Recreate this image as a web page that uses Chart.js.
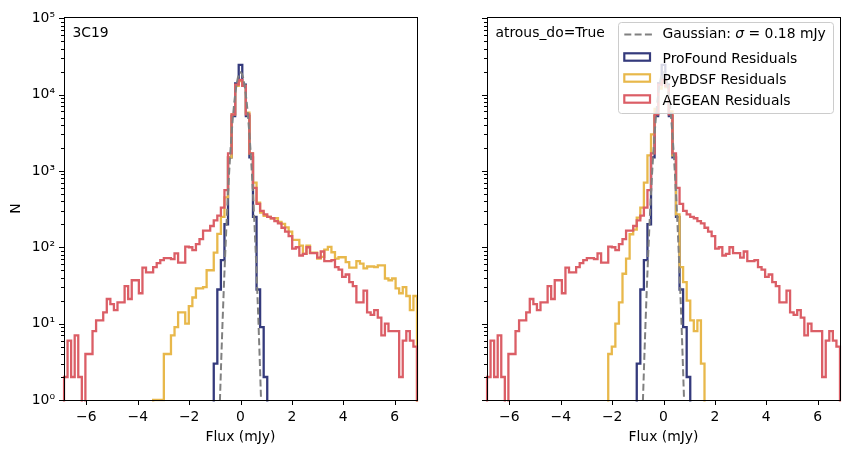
<!DOCTYPE html>
<html>
<head>
<meta charset="utf-8">
<title>Residual flux histograms</title>
<script src="https://cdn.jsdelivr.net/npm/chart.js@4.4.1/dist/chart.umd.min.js"></script>
<style>
  html, body { margin: 0; padding: 0; background: #fff; }
  #fig { position: relative; width: 853px; height: 453px; overflow: hidden; }
  #fig canvas { position: absolute; top: 0; }
</style>
</head>
<body>
<div id="fig">
  <canvas id="panelLeft" width="426" height="453" style="left:0px"></canvas>
  <canvas id="panelRight" width="427" height="453" style="left:426px"></canvas>
</div>
<script>
// histogram bins: 99 equal bins between these edges (mJy)
const binEdgeMin = -6.87;
const binEdgeMax = 6.87;

const fluxTicks = [-6, -4, -2, 0, 2, 4, 6];
const countDecades = [1, 10, 100, 1000, 10000, 100000];
const countMax = 102500;

// counts per bin
const aegeanCounts = [
  2, 6, 2, 7, 2, 0, 4, 4, 8, 11,
  11, 14, 21, 18, 15, 19, 19, 31, 21, 37,
  37, 25, 54, 47, 47, 55, 62, 68, 72, 72,
  70, 83, 63, 63, 102, 100, 92, 110, 128, 165,
  165, 190, 225, 260, 330, 560, 1700, 5500, 13500, 15500,
  13000, 5500, 1700, 600, 370, 300, 270, 250, 240, 220,
  205, 180, 160, 140, 96, 100, 78, 82, 100, 84,
  84, 73, 88, 66, 66, 68, 55, 51, 41, 44,
  35, 31, 19, 19, 27, 14, 13, 15, 12, 7,
  10, 8, 8, 8, 2, 6, 8, 6, 5
];
const profoundCounts = [
  0, 0, 0, 0, 0, 0, 0, 0, 0, 0,
  0, 0, 0, 0, 0, 0, 0, 0, 0, 0,
  0, 0, 0, 0, 0, 0, 0, 0, 0, 0,
  0, 0, 0, 0, 0, 0, 0, 0, 0, 0,
  0, 0, 3, 28, 68, 200, 1500, 5200, 14000, 24500,
  13500, 5200, 1500, 250, 28, 9, 2, 0, 0, 0,
  0, 0, 0, 0, 0, 0, 0, 0, 0, 0,
  0, 0, 0, 0, 0, 0, 0, 0, 0, 0,
  0, 0, 0, 0, 0, 0, 0, 0, 0, 0,
  0, 0, 0, 0, 0, 0, 0, 0, 0
];
const pybdsfCounts = [
  0, 0, 0, 0, 0, 0, 0, 0, 0, 0,
  0, 0, 0, 0, 0, 0, 0, 0, 0, 0,
  0, 0, 0, 0, 0, 1, 1, 1, 4, 4,
  7, 9, 14, 14, 10, 17, 22, 29, 29, 30,
  50, 50, 85, 150, 250, 450, 1500, 5500, 13000, 15000,
  13000, 5800, 1700, 700, 385, 285, 257, 250, 240, 240,
  215, 203, 182, 160, 125, 125, 105, 82, 105, 85,
  85, 71, 75, 93, 101, 86, 71, 74, 74, 64,
  54, 54, 66, 61, 53, 56, 56, 55, 58, 58,
  39, 37, 39, 29, 25, 30, 23, 15, 23
];
const pybdsfAtrousCounts = [
  0, 0, 0, 0, 0, 0, 0, 0, 0, 0,
  0, 0, 0, 0, 0, 0, 0, 0, 0, 0,
  0, 0, 0, 0, 0, 0, 0, 0, 0, 0,
  0, 0, 0, 0, 4, 5, 10, 19, 45, 71,
  148, 170, 244, 330, 700, 1600, 3000, 6500, 12000, 15000,
  12500, 6000, 1600, 270, 55, 35, 20, 11, 8, 11,
  3, 0, 0, 0, 0, 0, 0, 0, 0, 0,
  0, 0, 0, 0, 0, 0, 0, 0, 0, 0,
  0, 0, 0, 0, 0, 0, 0, 0, 0, 0,
  0, 0, 0, 0, 0, 0, 0, 0, 0
];

// gaussian model curve, sigma = 0.18 mJy
const gaussFlux = [
  -0.85, -0.8, -0.75, -0.7, -0.65, -0.6, -0.55, -0.5, -0.45, -0.4, -0.35, -0.3,
  -0.25, -0.2, -0.15, -0.1, -0.05, 0, 0.05, 0.1, 0.15, 0.2, 0.25, 0.3,
  0.35, 0.4, 0.45, 0.5, 0.55, 0.6, 0.65, 0.7, 0.75, 0.8, 0.85
];
const gaussCounts = [
  0.28, 1.0, 3.3, 10.2, 28.7, 75, 183, 411, 856, 1652, 2945, 4860,
  7435, 10520, 13780, 16710, 18760, 19500, 18760, 16710, 13780, 10520, 7435, 4860,
  2945, 1652, 856, 411, 183, 75, 28.7, 10.2, 3.3, 1.0, 0.28
];

const COL_PROFOUND = '#343a7c';
const COL_PYBDSF = '#e8b84b';
const COL_AEGEAN = '#db5e66';
const COL_GAUSS = '#808080';
const FONT = 'DejaVu Sans';
const FSIZE = 13.9;

Chart.defaults.font.family = FONT;
Chart.defaults.font.size = FSIZE;
Chart.defaults.color = '#000';
Chart.defaults.animation = false;

const sup = ['\u2070', '\u00b9', '\u00b2', '\u00b3', '\u2074', '\u2075'];

function stepOutline(counts) {
  const w = (binEdgeMax - binEdgeMin) / counts.length;
  const floor = 1e-3;
  const pts = [{x: binEdgeMin, y: floor}];
  counts.forEach((c, i) => {
    const y = c > 0 ? c : floor;
    pts.push({x: binEdgeMin + i * w, y: y});
    pts.push({x: binEdgeMin + (i + 1) * w, y: y});
  });
  pts.push({x: binEdgeMax, y: floor});
  return pts;
}

function isDecade(v) {
  const l = Math.log10(v);
  return Math.abs(l - Math.round(l)) < 1e-6;
}

function histSet(label, counts, color) {
  return {
    label: label,
    data: stepOutline(counts),
    borderColor: color,
    borderWidth: 2.3,
    borderJoinStyle: 'miter',
    pointRadius: 0,
    fill: false,
    tension: 0,
    clip: 1.5
  };
}

// frame + outward tick marks like matplotlib
const frameTicks = {
  id: 'frameTicks',
  afterDraw(chart) {
    const {ctx, chartArea: a, scales: {x, y}} = chart;
    ctx.save();
    ctx.strokeStyle = '#000';
    ctx.lineWidth = 1;
    ctx.beginPath();
    x.ticks.forEach(t => {
      const px = Math.round(x.getPixelForValue(t.value)) + 0.5;
      ctx.moveTo(px, a.bottom);
      ctx.lineTo(px, a.bottom + 5);
    });
    y.ticks.forEach(t => {
      const py = Math.round(y.getPixelForValue(t.value)) + 0.5;
      ctx.moveTo(a.left, py);
      ctx.lineTo(a.left - (isDecade(t.value) ? 5 : 3), py);
    });
    ctx.stroke();
    ctx.strokeRect(Math.round(a.left) + 0.5, Math.round(a.top) + 0.5,
      Math.round(a.right - a.left), Math.round(a.bottom - a.top));
    ctx.restore();
  }
};

const cornerText = {
  id: 'cornerText',
  afterDraw(chart, args, opts) {
    const {ctx, chartArea: a} = chart;
    ctx.save();
    ctx.font = FSIZE + 'px "' + FONT + '"';
    ctx.fillStyle = '#000';
    ctx.textBaseline = 'middle';
    ctx.textAlign = 'left';
    ctx.fillText(opts.text, a.left + 8.5, 33);
    ctx.restore();
  }
};

const boxLegend = {
  id: 'boxLegend',
  afterDraw(chart, args, opts) {
    if (!opts.show) return;
    const ctx = chart.ctx;
    const bx = 192.5, by = 22.5, bw = 215, bh = 91;
    ctx.save();
    ctx.beginPath();
    if (ctx.roundRect) ctx.roundRect(bx, by, bw, bh, 3); else ctx.rect(bx, by, bw, bh);
    ctx.fillStyle = 'rgba(255,255,255,0.8)';
    ctx.fill();
    ctx.strokeStyle = '#cccccc';
    ctx.lineWidth = 1;
    ctx.stroke();

    const hx = 198.3, hw = 25.7, tx = 236.5;
    // gaussian handle
    ctx.beginPath();
    ctx.setLineDash([7, 3.3]);
    ctx.strokeStyle = COL_GAUSS;
    ctx.lineWidth = 2;
    ctx.moveTo(hx, 34.5);
    ctx.lineTo(hx + 27.6, 34.5);
    ctx.stroke();
    ctx.setLineDash([]);

    const rows = [
      {y: 59, color: COL_PROFOUND, text: 'ProFound Residuals'},
      {y: 80, color: COL_PYBDSF, text: 'PyBDSF Residuals'},
      {y: 101, color: COL_AEGEAN, text: 'AEGEAN Residuals'}
    ];
    ctx.lineWidth = 2.2;
    ctx.lineJoin = 'miter';
    rows.forEach(r => {
      ctx.strokeStyle = r.color;
      ctx.strokeRect(hx, r.y - 5.7, hw, 7.4);
    });

    ctx.fillStyle = '#000';
    ctx.textBaseline = 'middle';
    ctx.textAlign = 'left';
    const normal = FSIZE + 'px "' + FONT + '"';
    const italic = 'italic ' + FSIZE + 'px "' + FONT + '"';
    ctx.font = normal;
    let cx = tx;
    ctx.fillText('Gaussian: ', cx, 34.5);
    cx += ctx.measureText('Gaussian: ').width;
    ctx.font = italic;
    ctx.fillText('\u03c3', cx, 34.5);
    cx += ctx.measureText('\u03c3').width;
    ctx.font = normal;
    ctx.fillText(' = 0.18 mJy', cx, 34.5);
    rows.forEach(r => ctx.fillText(r.text, tx, r.y));
    ctx.restore();
  }
};

function makePanel(id, pybdsf, cfg) {
  const ctx = document.getElementById(id).getContext('2d');
  return new Chart(ctx, {
    type: 'line',
    data: {
      datasets: [
        {
          label: 'Gaussian',
          data: gaussFlux.map((f, i) => ({x: f, y: gaussCounts[i]})),
          borderColor: COL_GAUSS,
          borderWidth: 2,
          borderDash: [7, 3.3],
          pointRadius: 0,
          fill: false,
          tension: 0,
          clip: 0
        },
        histSet('AEGEAN Residuals', aegeanCounts, COL_AEGEAN),
        histSet('PyBDSF Residuals', pybdsf, COL_PYBDSF),
        histSet('ProFound Residuals', profoundCounts, COL_PROFOUND)
      ]
    },
    options: {
      responsive: false,
      events: [],
      layout: { padding: { left: 0, top: 15, right: cfg.padRight, bottom: 0 } },
      plugins: {
        legend: { display: false },
        tooltip: { enabled: false },
        cornerText: { text: cfg.text },
        boxLegend: { show: cfg.legend }
      },
      scales: {
        x: {
          type: 'linear',
          min: binEdgeMin,
          max: binEdgeMax,
          afterFit: s => { s.height = 53; },
          afterBuildTicks: s => { s.ticks = fluxTicks.map(v => ({value: v})); },
          grid: { display: false, drawTicks: false, tickLength: 0 },
          border: { display: false },
          ticks: {
            padding: 9,
            autoSkip: false,
            maxRotation: 0,
            callback: v => (v < 0 ? '\u2212' + Math.abs(v) : String(v))
          },
          title: { display: true, text: 'Flux (mJy)', padding: { top: 0, bottom: 7.7 } }
        },
        y: {
          type: 'logarithmic',
          min: 1,
          max: countMax,
          afterFit: s => { s.width = cfg.axisWidth; },
          afterBuildTicks: s => {
            const t = [];
            countDecades.forEach(d => {
              for (let m = 1; m <= 9; m++) {
                if (d * m <= countMax) t.push({value: d * m});
              }
            });
            s.ticks = t;
          },
          grid: { display: false, drawTicks: false, tickLength: 0 },
          border: { display: false },
          ticks: {
            padding: 9,
            autoSkip: false,
            callback: v => (cfg.yLabels && isDecade(v) ? '10' + sup[Math.round(Math.log10(v))] : '')
          },
          title: { display: cfg.yLabels, text: 'N', padding: { top: 7.7, bottom: 0 } }
        }
      }
    },
    plugins: [frameTicks, cornerText, boxLegend]
  });
}

makePanel('panelLeft', pybdsfCounts,
  {padRight: 9, axisWidth: 64, yLabels: true, text: '3C19', legend: false});
makePanel('panelRight', pybdsfAtrousCounts,
  {padRight: 13, axisWidth: 61, yLabels: false, text: 'atrous_do=True', legend: true});
</script>
</body>
</html>
